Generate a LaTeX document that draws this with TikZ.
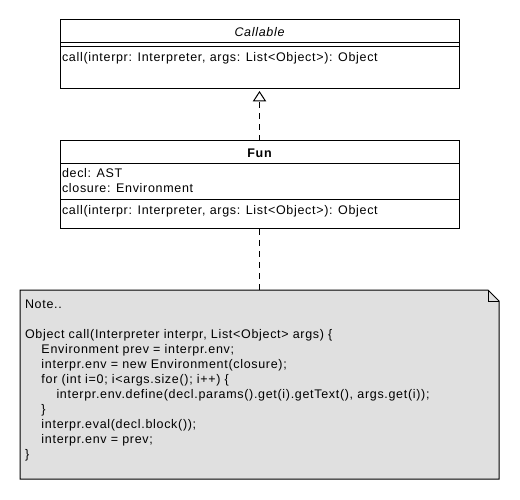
\documentclass[tikz,border=0pt]{standalone}
\usepackage{fontspec}
\setmainfont{Liberation Sans}[LetterSpace=5.5]
\usetikzlibrary{arrows.meta,calc}
\definecolor{notegray}{RGB}{224,224,224}
\begin{document}
\begin{tikzpicture}[x=1pt,y=-1pt,
  box/.style={draw=black,line width=1pt,inner sep=0pt,outer sep=0pt,fill=white},
  txt/.style={inner sep=0pt,outer sep=0pt,anchor=base west,font=\fontsize{12.5pt}{15pt}\selectfont},
  ctxt/.style={txt,anchor=base},
  sepline/.style={draw=black,line width=1pt},
  dep/.style={draw=black,line width=1pt,dash pattern=on 6pt off 5pt},
  realize/.style={dep,-{Triangle[open,length=10.5pt,width=13.5pt,fill=white]},shorten >=2pt},
  notefill/.style={fill=notegray,draw=black,line width=1pt}]
\useasboundingbox (0,0) rectangle (520,500);
\fill[white] (0,0) rectangle (520,500);

% Callable interface
\node[box,minimum width=399pt,minimum height=69pt] (callable) at (259.5,54.5) {};
\draw[sepline] (60,42.5) -- (459,42.5);
\draw[sepline] (60,47) -- (459,47);
\node[ctxt] (callname) at (259.5,37) {\itshape Callable};
\node[txt] (callop) at (62,61.5) {call(interpr: Interpreter, args: List<Object>): Object};

% Fun class
\node[box,minimum width=399pt,minimum height=88pt] (fun) at (259.5,185) {};
\draw[sepline] (60,163.5) -- (459,163.5);
\draw[sepline] (60,200) -- (459,200);
\node[ctxt] (funname) at (259.5,157.5) {\bfseries Fun};
\node[txt] (decl) at (62,177.5) {decl: AST};
\node[txt] (closure) at (62,192.5) {closure: Environment};
\node[txt] (funop) at (62,214.5) {call(interpr: Interpreter, args: List<Object>): Object};

% Note
\node[inner sep=0pt,outer sep=0pt,minimum width=479pt,minimum height=189pt] (note) at (259.5,384.5) {};
\draw[notefill] (note.north west) -- ($(note.north east)+(-11,0)$) -- ($(note.north east)+(0,11)$) -- (note.south east) -- (note.south west) -- cycle;
\draw[sepline] ($(note.north east)+(-11,0)$) -- ($(note.north east)+(-11,11)$) -- ($(note.north east)+(0,11)$);
\node[txt] (n1) at (25,308) {Note..};
\node[txt] (n3) at (25,338) {Object call(Interpreter interpr, List<Object> args) \{};
\node[txt] (n4) at (41.5,353) {Environment prev = interpr.env;};
\node[txt] (n5) at (41.5,368) {interpr.env = new Environment(closure);};
\node[txt] (n6) at (41.5,383) {for (int i=0; i<args.size(); i++) \{};
\node[txt] (n7) at (56.5,398) {interpr.env.define(decl.params().get(i).getText(), args.get(i));};
\node[txt] (n8) at (41.5,413) {\}};
\node[txt] (n9) at (41.5,428) {interpr.eval(decl.block());};
\node[txt] (n10) at (41.5,443) {interpr.env = prev;};
\node[txt] (n11) at (25,458) {\}};

% Connectors
\draw[realize] (fun.north) -- (callable.south);
\draw[dep] (fun.south) -- (fun.south |- note.north);
\end{tikzpicture}
\end{document}
